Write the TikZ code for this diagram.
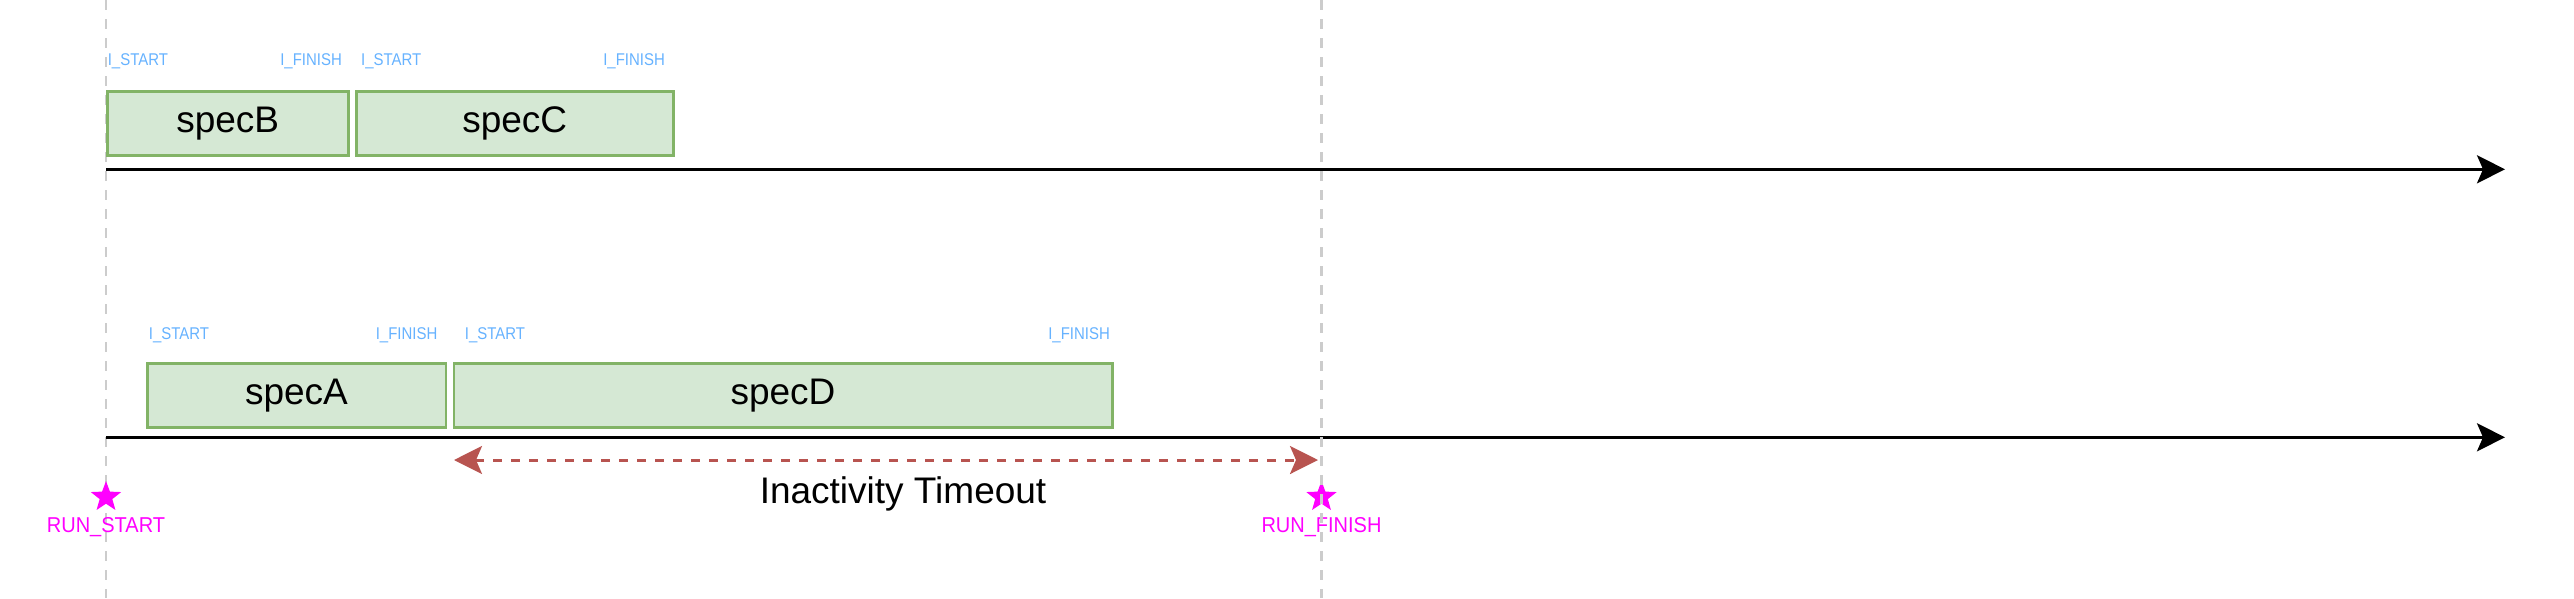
\documentclass[tikz,border=0pt]{standalone}
\usepackage{fontspec}
\setmainfont{Liberation Sans}
\newfontfamily\narrowfont[FakeStretch=0.88]{Liberation Sans}
\newfontfamily\runfont[FakeStretch=0.93]{Liberation Sans}
\usetikzlibrary{arrows.meta,shapes.geometric}
\definecolor{boxfill}{HTML}{D5E8D4}
\definecolor{boxdraw}{HTML}{82B366}
\definecolor{lbl}{HTML}{66B2FF}
\definecolor{gridgray}{HTML}{CCCCCC}
\definecolor{tred}{HTML}{B85450}
\definecolor{mag}{HTML}{FF00FF}
\begin{document}
\begin{tikzpicture}[x=1pt,y=-1pt,
  specbox/.style={draw=boxdraw, fill=boxfill, line width=2.5pt, inner sep=0pt,
    anchor=north west, font=\fontsize{37}{37}\selectfont},
  tlabel/.style={text=lbl, inner sep=0pt, font=\narrowfont\fontsize{17}{17}\selectfont},
  runlabel/.style={text=mag, inner sep=0pt, font=\runfont\fontsize{21.5}{21.5}\selectfont},
  runstar/.style={star, star points=5, star point ratio=2.4, fill=mag, draw=none,
    minimum size=32pt, inner sep=0pt},
  axisline/.style={line width=3pt, -{Stealth[length=28pt,width=28pt,inset=6pt]}},
  gridline/.style={draw=gridgray, line width=2.6pt, dash pattern=on 10pt off 9pt},
  timeout/.style={draw=tred, line width=3pt, dash pattern=on 9pt off 9pt,
    {Stealth[length=28pt,width=28pt,inset=6pt]}-{Stealth[length=28pt,width=28pt,inset=6pt]}},
]
\useasboundingbox (0,0) rectangle (2574,598);

% vertical dashed guides
\coordinate (g1a) at (106,0);
\coordinate (g1b) at (106,598);
\coordinate (g2a) at (1321.5,0);
\coordinate (g2b) at (1321.5,598);
\draw[gridline] (g1a) -- (g1b);

% top row boxes
\node[specbox, minimum width=241pt, minimum height=64pt] (B) at (106,90) {specB};
\node[specbox, minimum width=317pt, minimum height=64pt] (C) at (355,90) {specC};
% bottom row boxes
\node[specbox, minimum width=298.5pt, minimum height=64pt] (A) at (146,362) {specA};
\node[specbox, minimum width=658.5pt, minimum height=64pt] (D) at (452.5,362) {specD};

% labels top
\node[tlabel, anchor=west] (Bs) at (107.6,61.7) {I\_START};
\node[tlabel, anchor=east] (Bf) at (342,61.7) {I\_FINISH};
\node[tlabel, anchor=west] (Cs) at (361,61.7) {I\_START};
\node[tlabel, anchor=east] (Cf) at (665,61.7) {I\_FINISH};
% labels bottom
\node[tlabel, anchor=west] (As) at (148.7,335) {I\_START};
\node[tlabel, anchor=east] (Af) at (437.5,335) {I\_FINISH};
\node[tlabel, anchor=west] (Ds) at (464.7,335) {I\_START};
\node[tlabel, anchor=east] (Df) at (1110,335) {I\_FINISH};

% axes
\coordinate (t0) at (106,169.3);
\coordinate (t1) at (2505,169.3);
\coordinate (b0) at (106,437.3);
\coordinate (b1) at (2505,437.3);
\draw[axisline] (t0) -- (t1);
\draw[axisline] (b0) -- (b1);

% inactivity timeout
\coordinate (r0) at (454,460);
\coordinate (r1) at (1318,460);
\draw[timeout] (r0) -- (r1);
\node[anchor=base, font=\fontsize{37}{37}\selectfont, inner sep=0pt] (it) at (903,503) {Inactivity Timeout};

% run markers
\node[runstar] (s1) at (106,497) {};
\node[runstar] (s2) at (1321.5,497) {};
\node[runlabel] (rs) at (106,527) {RUN\_START};
\node[runlabel] (rf) at (1321.5,527) {RUN\_FINISH};

\draw[gridline] (g2a) -- (g2b);
\end{tikzpicture}
\end{document}
